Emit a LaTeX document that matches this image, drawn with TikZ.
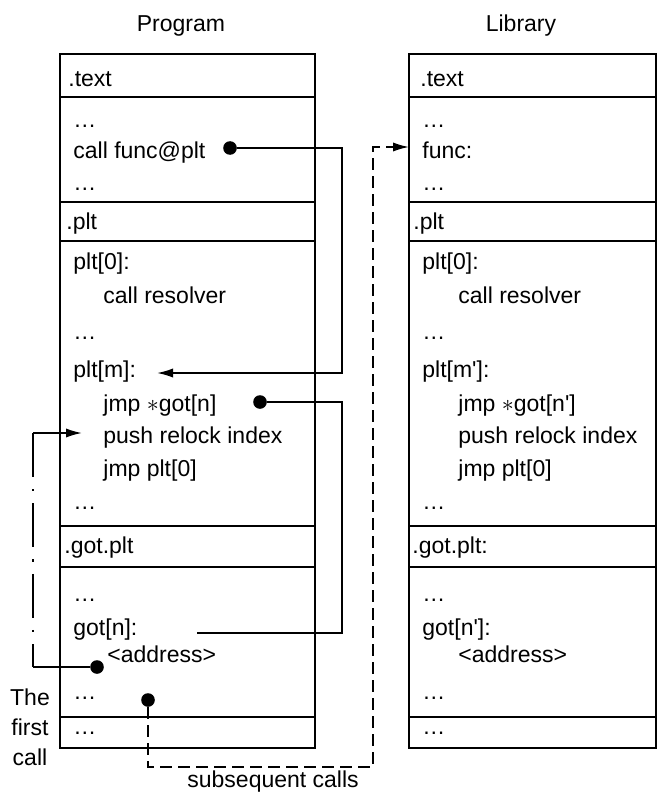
\documentclass[tikz,border=0pt]{standalone}
\usepackage{fontspec}
\setmainfont{Liberation Sans}
\usetikzlibrary{arrows.meta}
\newcommand\fs{\fontsize{11.5}{15}\selectfont}

\begin{document}
\begin{tikzpicture}[x=0.5pt,y=-0.5pt,
  txt/.style={anchor=base west, inner sep=0pt, font=\fs},
  title/.style={anchor=base, inner sep=0pt, font=\fs},
  frame/.style={line width=1pt},
  bullet/.style={circle, fill, inner sep=0pt, minimum size=6.8pt},
  wire/.style={line width=0.85pt},
  tip/.style={-{Latex[length=8pt,width=4.6pt]}},
  dashdot/.style={dash pattern=on 22pt off 6pt on 1.2pt off 6pt},
  dashline/.style={dash pattern=on 6pt off 3pt}]

\useasboundingbox (0,0) rectangle (658,808);

% section frames of both images
\foreach \a/\b in {54/97, 97/202, 202/241, 241/526, 526/567, 567/717, 717/748} {
  \draw[frame] (60,\a) rectangle (315,\b);
  \draw[frame] (409,\a) rectangle (656,\b);
}

% titles
\node[title] (tprog) at (181,32) {Program};
\node[title] (tlib)  at (521,32) {Library};

% program contents
\node[txt] (p1)  at (68,87)   {.text};
\node[txt] (p2)  at (73,127)  {…};
\node[txt] (p3)  at (73,158)  {call func@plt};
\node[txt] (p4)  at (73,190)  {…};
\node[txt] (p5)  at (66,229)  {.plt};
\node[txt] (p6)  at (73,269)  {plt[0]:};
\node[txt] (p7)  at (103,303) {call resolver};
\node[txt] (p8)  at (73,339)  {…};
\node[txt] (p9)  at (73,377)  {plt[m]:};
\node[txt] (p10) at (103,411) {jmp $\ast$got[n]};
\node[txt] (p11) at (103,443) {push relock index};
\node[txt] (p12) at (103,476) {jmp plt[0]};
\node[txt] (p13) at (73,509)  {…};
\node[txt] (p14) at (64,553)  {.got.plt};
\node[txt] (p15) at (73,601)  {…};
\node[txt] (p16) at (73,635)  {got[n]:};
\node[txt] (p17) at (107,662) {<address>};
\node[txt] (p18) at (73,699)  {…};
\node[txt] (p19) at (73,734)  {…};

% library contents
\node[txt] (q1)  at (420,87)  {.text};
\node[txt] (q2)  at (422,127) {…};
\node[txt] (q3)  at (422,158) {func:};
\node[txt] (q4)  at (422,190) {…};
\node[txt] (q5)  at (413,229) {.plt};
\node[txt] (q6)  at (422,269) {plt[0]:};
\node[txt] (q7)  at (458,303) {call resolver};
\node[txt] (q8)  at (422,339) {…};
\node[txt] (q9)  at (422,377) {plt[m\textquotesingle]:};
\node[txt] (q10) at (458,411) {jmp $\ast$got[n\textquotesingle]};
\node[txt] (q11) at (458,443) {push relock index};
\node[txt] (q12) at (458,476) {jmp plt[0]};
\node[txt] (q13) at (422,509) {…};
\node[txt] (q14) at (412,553) {.got.plt:};
\node[txt] (q15) at (422,601) {…};
\node[txt] (q16) at (422,635) {got[n\textquotesingle]:};
\node[txt] (q17) at (458,662) {<address>};
\node[txt] (q18) at (422,699) {…};
\node[txt] (q19) at (422,734) {…};

% side labels (base anchor sits on the last line)
\node[title, align=center] (first) at (30,765) {The\\first\\call};
\node[txt] (subs) at (187,787) {subsequent calls};

% connector anchors
\node[bullet] (b1) at (230,148) {};
\node[bullet] (b2) at (260,402) {};
\node[bullet] (b3) at (97,667) {};
\node[bullet] (b4) at (148,700) {};
\coordinate (r1) at (342,373);
\coordinate (t1) at (157,373);
\coordinate (r2) at (342,633);
\coordinate (t2) at (197,633);
\coordinate (l1) at (33,667);
\coordinate (l2) at (33,433);
\coordinate (t3) at (82,433);
\coordinate (d1) at (373,767);
\coordinate (t4) at (409,147);

% call func@plt -> plt[m]
\draw[wire,tip] (b1) -| (r1) -- (t1);
% jmp *got[n] -> got[n]
\draw[wire] (b2) -| (r2) -- (t2);
% first call: <address> -> push relock index
\draw[wire] (b3) -- (l1);
\draw[wire,dashdot] (l2) -- (l1);
\draw[wire,tip] (l2) -- (t3);
% subsequent calls -> func
\draw[wire,dashline,tip] (b4) |- (d1) |- (t4);
\end{tikzpicture}
\end{document}
